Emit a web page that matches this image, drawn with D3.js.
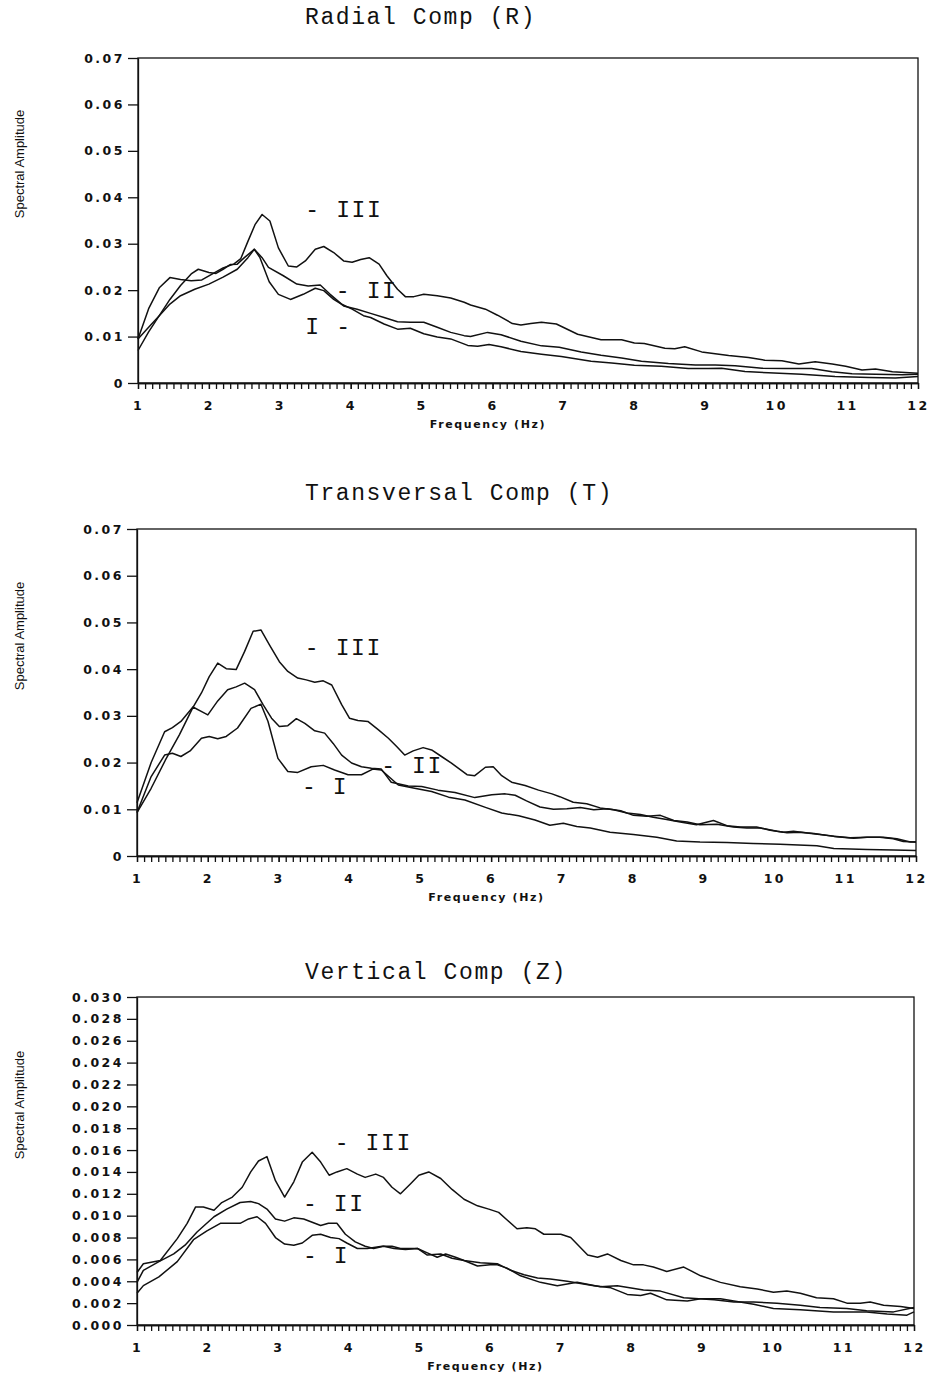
<!DOCTYPE html>
<html lang="en">
<head>
<meta charset="UTF-8">
<title>Spectral Amplitude</title>
<script src="https://d3js.org/d3.v7.min.js"></script>
<style>
  body { margin: 0; background: #fff; }
  .tick text { font-family: "DejaVu Sans", sans-serif; font-weight: bold; font-size: 12.5px; letter-spacing: 2.5px; fill: #111; }
  .tick line, .domain { stroke: #111; stroke-width: 1.3; }
  .title, .tag { font-family: "Courier New", "Liberation Mono", monospace; font-size: 23px; letter-spacing: 1.6px; fill: #111; }
  .xlab { font-family: "DejaVu Sans", sans-serif; font-weight: bold; font-size: 11px; letter-spacing: 1.6px; fill: #111; }
  .ylab { font-family: "Liberation Sans Narrow", "Liberation Sans", sans-serif; font-stretch: condensed; font-size: 13px; fill: #111; }
  .curve { fill: none; stroke: #111; stroke-width: 1.5; stroke-linejoin: round; }
</style>
</head>
<body>
<svg width="939" height="1381"></svg>
<script>
// ---- data: [frequency Hz, spectral amplitude] ----
var radialI = [[1.0,0.0095],[1.15,0.012],[1.3,0.0145],[1.45,0.017],[1.6,0.0188],[1.8,0.0202],[2.0,0.0213],[2.2,0.0228],[2.4,0.0245],[2.55,0.027],[2.64,0.0288],[2.72,0.027],[2.85,0.0218],[2.98,0.0191],[3.15,0.018],[3.33,0.0191],[3.5,0.0204],[3.62,0.0199],[3.76,0.018],[3.88,0.0169],[4.02,0.0159],[4.18,0.0145],[4.28,0.0141],[4.47,0.0127],[4.66,0.0116],[4.84,0.0118],[5.03,0.0106],[5.22,0.0099],[5.41,0.0095],[5.65,0.0081],[5.79,0.0079],[5.95,0.0083],[6.12,0.0078],[6.4,0.0068],[6.69,0.0062],[6.97,0.0057],[7.39,0.0047],[7.68,0.0043],[8.0,0.0038],[8.38,0.0036],[8.76,0.0031],[9.04,0.0031],[9.23,0.0032],[9.56,0.0025],[9.89,0.0022],[10.36,0.0019],[10.83,0.0014],[11.31,0.0012],[11.68,0.0011],[12.0,0.0014]];
var radialII = [[1.0,0.007],[1.15,0.011],[1.3,0.0145],[1.45,0.018],[1.6,0.021],[1.75,0.0235],[1.85,0.0245],[2.0,0.0238],[2.1,0.0236],[2.2,0.0245],[2.3,0.0255],[2.4,0.0256],[2.5,0.027],[2.64,0.0288],[2.75,0.027],[2.84,0.0249],[3.05,0.0231],[3.24,0.0213],[3.4,0.0209],[3.57,0.0211],[3.71,0.0191],[3.9,0.0166],[4.09,0.0159],[4.28,0.015],[4.47,0.0141],[4.66,0.0132],[4.84,0.0131],[5.03,0.0131],[5.22,0.012],[5.41,0.0109],[5.6,0.0102],[5.69,0.01],[5.93,0.0109],[6.12,0.0104],[6.4,0.009],[6.69,0.008],[6.94,0.0077],[7.25,0.0067],[7.53,0.006],[7.82,0.0054],[8.1,0.0047],[8.48,0.0042],[8.86,0.0039],[9.14,0.0039],[9.42,0.0037],[9.8,0.0032],[10.13,0.0031],[10.5,0.0031],[10.79,0.0024],[11.07,0.002],[11.4,0.0019],[11.78,0.0018],[12.0,0.0019]];
var radialIII = [[1.0,0.0095],[1.15,0.016],[1.3,0.0205],[1.45,0.0227],[1.6,0.0223],[1.75,0.022],[1.9,0.0222],[2.05,0.0235],[2.2,0.0248],[2.35,0.0256],[2.45,0.0268],[2.55,0.0305],[2.65,0.0341],[2.75,0.0363],[2.86,0.0349],[2.98,0.0291],[3.12,0.0252],[3.24,0.025],[3.36,0.0263],[3.5,0.0288],[3.62,0.0294],[3.76,0.0281],[3.9,0.0263],[4.02,0.026],[4.14,0.0266],[4.26,0.027],[4.4,0.0256],[4.51,0.0231],[4.66,0.0202],[4.77,0.0186],[4.89,0.0186],[5.03,0.0191],[5.22,0.0188],[5.41,0.0183],[5.6,0.0174],[5.69,0.0168],[5.9,0.0159],[6.07,0.0146],[6.28,0.0128],[6.4,0.0125],[6.54,0.0128],[6.69,0.0131],[6.9,0.0127],[7.2,0.0105],[7.53,0.0093],[7.82,0.0093],[8.0,0.0086],[8.14,0.0085],[8.43,0.0075],[8.57,0.0074],[8.71,0.0078],[8.95,0.0067],[9.33,0.0059],[9.61,0.0055],[9.84,0.0049],[10.08,0.0048],[10.32,0.0041],[10.55,0.0046],[10.79,0.0041],[10.98,0.0036],[11.21,0.0028],[11.4,0.003],[11.64,0.0024],[12.0,0.0021]];

var transI = [[1.0,0.0093],[1.2,0.017],[1.39,0.0216],[1.5,0.022],[1.62,0.0213],[1.75,0.0225],[1.91,0.0252],[2.02,0.0256],[2.14,0.0251],[2.26,0.0256],[2.42,0.0274],[2.61,0.0316],[2.75,0.0325],[2.85,0.0288],[2.99,0.0209],[3.13,0.0181],[3.27,0.0179],[3.46,0.0191],[3.63,0.0194],[3.79,0.0184],[3.98,0.0174],[4.17,0.0174],[4.33,0.0186],[4.45,0.0184],[4.69,0.0152],[4.92,0.0145],[5.16,0.0138],[5.4,0.0126],[5.63,0.012],[5.92,0.0104],[6.15,0.0092],[6.39,0.0086],[6.62,0.0077],[6.83,0.0066],[7.02,0.007],[7.21,0.0063],[7.4,0.006],[7.68,0.0051],[8.01,0.0046],[8.34,0.004],[8.62,0.0032],[8.95,0.003],[9.33,0.0029],[9.7,0.0027],[10.08,0.0025],[10.6,0.0022],[10.84,0.0016],[11.31,0.0014],[11.68,0.0013],[12.0,0.0012]];
var transII = [[1.0,0.0114],[1.2,0.02],[1.39,0.0266],[1.5,0.0275],[1.62,0.0288],[1.79,0.0319],[1.9,0.031],[2.0,0.0302],[2.14,0.0332],[2.28,0.0356],[2.4,0.0362],[2.52,0.037],[2.66,0.0356],[2.78,0.0324],[2.9,0.0295],[3.01,0.0277],[3.13,0.0279],[3.25,0.0294],[3.37,0.0284],[3.51,0.0268],[3.65,0.0263],[3.77,0.0241],[3.89,0.0216],[4.03,0.0199],[4.17,0.0191],[4.31,0.0188],[4.45,0.0186],[4.59,0.0158],[4.83,0.015],[5.02,0.0149],[5.25,0.0141],[5.49,0.0136],[5.77,0.0125],[6.01,0.0131],[6.2,0.0133],[6.34,0.013],[6.5,0.0118],[6.69,0.0105],[6.88,0.01],[7.07,0.0101],[7.26,0.0104],[7.45,0.0099],[7.64,0.0101],[7.83,0.0097],[8.01,0.0087],[8.2,0.0085],[8.39,0.0087],[8.58,0.0076],[8.77,0.0073],[8.95,0.0067],[9.19,0.0068],[9.42,0.0062],[9.61,0.006],[9.8,0.006],[10.04,0.0053],[10.18,0.005],[10.37,0.0051],[10.56,0.0048],[10.84,0.0042],[11.12,0.0038],[11.31,0.004],[11.54,0.004],[11.73,0.0037],[11.92,0.003],[12.0,0.003]];
var transIII = [[1.0,0.0093],[1.2,0.0145],[1.4,0.0205],[1.6,0.026],[1.79,0.0318],[1.91,0.0349],[2.02,0.0384],[2.14,0.0413],[2.26,0.0401],[2.4,0.0399],[2.52,0.0438],[2.64,0.0481],[2.75,0.0484],[2.87,0.0452],[3.01,0.0416],[3.13,0.0395],[3.27,0.0381],[3.39,0.0377],[3.51,0.0372],[3.63,0.0375],[3.75,0.0366],[3.89,0.0324],[4.0,0.0295],[4.12,0.029],[4.26,0.0288],[4.41,0.027],[4.55,0.0252],[4.67,0.0234],[4.78,0.0216],[4.9,0.0225],[5.04,0.0232],[5.16,0.0227],[5.3,0.0213],[5.44,0.0199],[5.66,0.0174],[5.77,0.0172],[5.92,0.019],[6.03,0.0191],[6.15,0.0172],[6.29,0.0158],[6.48,0.0151],[6.67,0.0141],[6.86,0.0133],[6.97,0.0127],[7.16,0.0115],[7.35,0.0112],[7.54,0.0103],[7.73,0.0099],[7.92,0.0092],[8.11,0.0089],[8.29,0.0083],[8.48,0.0078],[8.67,0.0073],[8.9,0.0067],[9.14,0.0076],[9.33,0.0065],[9.52,0.0062],[9.75,0.0062],[9.94,0.0055],[10.13,0.0051],[10.27,0.0053],[10.46,0.0049],[10.7,0.0045],[10.88,0.0042],[11.07,0.0039],[11.3,0.004],[11.49,0.004],[11.68,0.0037],[11.82,0.0031],[12.0,0.003]];

var vertI = [[1.0,0.0029],[1.09,0.0036],[1.31,0.0044],[1.57,0.0058],[1.8,0.0078],[1.99,0.0086],[2.18,0.0093],[2.32,0.0093],[2.46,0.0093],[2.58,0.0097],[2.7,0.0099],[2.82,0.0093],[2.96,0.008],[3.09,0.0074],[3.22,0.0073],[3.34,0.0075],[3.48,0.0082],[3.6,0.0083],[3.74,0.008],[3.86,0.0079],[3.97,0.0075],[4.12,0.007],[4.26,0.007],[4.47,0.0072],[4.61,0.0072],[4.73,0.007],[4.97,0.007],[5.11,0.0066],[5.25,0.0062],[5.37,0.0065],[5.51,0.0062],[5.63,0.0059],[5.82,0.0054],[6.0,0.0055],[6.1,0.0055],[6.24,0.0052],[6.43,0.0045],[6.71,0.0039],[6.95,0.0036],[7.23,0.0039],[7.56,0.0035],[7.8,0.0036],[8.17,0.0032],[8.41,0.0031],[8.74,0.0025],[9.17,0.0023],[9.45,0.0021],[9.73,0.0021],[10.06,0.002],[10.39,0.0018],[10.67,0.0016],[11.05,0.0015],[11.33,0.0013],[11.71,0.0012],[12.0,0.0016]];
var vertII = [[1.0,0.0039],[1.09,0.005],[1.31,0.0058],[1.52,0.0065],[1.68,0.0073],[1.85,0.0085],[2.09,0.0099],[2.27,0.0106],[2.46,0.0112],[2.61,0.0113],[2.72,0.0111],[2.84,0.0106],[2.96,0.0097],[3.09,0.0095],[3.22,0.0098],[3.36,0.0097],[3.48,0.0094],[3.6,0.0091],[3.71,0.0093],[3.83,0.0093],[3.95,0.0083],[4.09,0.0076],[4.23,0.0072],[4.35,0.007],[4.49,0.0072],[4.64,0.007],[4.8,0.0069],[4.97,0.007],[5.11,0.0064],[5.3,0.0065],[5.46,0.0061],[5.63,0.0059],[5.86,0.0057],[6.1,0.0056],[6.29,0.005],[6.48,0.0046],[6.67,0.0043],[6.85,0.0042],[7.09,0.004],[7.47,0.0036],[7.71,0.0034],[7.94,0.0028],[8.13,0.0027],[8.27,0.0029],[8.5,0.0023],[8.79,0.0022],[8.98,0.0024],[9.26,0.0024],[9.45,0.0022],[9.73,0.0019],[10.01,0.0015],[10.39,0.0014],[10.86,0.0012],[11.33,0.0012],[11.62,0.001],[11.9,0.0009],[12.0,0.0012]];
var vertIII = [[1.0,0.0048],[1.09,0.0056],[1.33,0.0059],[1.57,0.0079],[1.71,0.0093],[1.83,0.0108],[1.94,0.0108],[2.09,0.0105],[2.2,0.0112],[2.35,0.0117],[2.49,0.0126],[2.61,0.014],[2.72,0.015],[2.84,0.0154],[2.96,0.0132],[3.09,0.0117],[3.22,0.0131],[3.34,0.0149],[3.48,0.0158],[3.6,0.0149],[3.72,0.0137],[3.83,0.014],[3.97,0.0143],[4.12,0.0138],[4.23,0.0135],[4.38,0.0138],[4.49,0.0135],[4.61,0.0126],[4.73,0.012],[4.87,0.0129],[4.99,0.0137],[5.13,0.014],[5.3,0.0134],[5.46,0.0124],[5.63,0.0115],[5.82,0.0109],[5.98,0.0106],[6.12,0.0103],[6.24,0.0096],[6.38,0.0088],[6.52,0.0089],[6.64,0.0088],[6.76,0.0083],[7.0,0.0083],[7.14,0.008],[7.38,0.0064],[7.52,0.0062],[7.66,0.0065],[7.85,0.0059],[8.03,0.0055],[8.17,0.0055],[8.31,0.0053],[8.5,0.0049],[8.74,0.0053],[8.98,0.0045],[9.26,0.0039],[9.54,0.0035],[9.78,0.0033],[10.01,0.003],[10.2,0.0031],[10.39,0.0029],[10.62,0.0025],[10.86,0.0024],[11.05,0.002],[11.24,0.002],[11.38,0.0021],[11.57,0.0018],[11.81,0.0017],[12.0,0.0015]];

var xTicks = d3.range(1, 13);
var xMinor = d3.range(10, 121).map(d => d / 10);
var yTicksRT = [0, 0.01, 0.02, 0.03, 0.04, 0.05, 0.06, 0.07];
var yTicksZ = d3.range(0, 16).map(d => d * 0.002);

var titles = ["Radial Comp (R)", "Transversal Comp (T)", "Vertical Comp (Z)"];
// curve labels: text, frequency, amplitude where the label sits
var radialTags = [["- III", 3.36, 0.037], ["- II", 3.79, 0.0196], ["I -", 3.36, 0.0118]];
var transTags = [["- III", 3.37, 0.0443], ["- II", 4.45, 0.019], ["- I", 3.33, 0.0146]];
var vertTags = [["- III", 3.8, 0.0166], ["- II", 3.35, 0.011], ["- I", 3.35, 0.0062]];

var svg = d3.select("svg");
svg.append("rect").attr("width", 939).attr("height", 1381).attr("fill", "#fff");

var panels = [
  { title: titles[0], series: [radialI, radialII, radialIII], tags: radialTags, yMax: 0.07, yTicks: yTicksRT, fmt: d => d === 0 ? "0" : d3.format(".2f")(d),
    left: 138, right: 918, top: 58, bottom: 383, titleY: 24, ylabY: 164 },
  { title: titles[1], series: [transI, transII, transIII], tags: transTags, yMax: 0.07, yTicks: yTicksRT, fmt: d => d === 0 ? "0" : d3.format(".2f")(d),
    left: 137, right: 916, top: 529, bottom: 856, titleY: 500, ylabY: 636 },
  { title: titles[2], series: [vertI, vertII, vertIII], tags: vertTags, yMax: 0.03, yTicks: yTicksZ, fmt: d3.format(".3f"),
    left: 137, right: 914, top: 997, bottom: 1325, titleY: 979, ylabY: 1105 }
];

panels.forEach(p => {
  var x = d3.scaleLinear().domain([1, 12]).range([p.left, p.right]);
  var y = d3.scaleLinear().domain([0, p.yMax]).range([p.bottom, p.top]);
  var g = svg.append("g");

  g.append("rect")
    .attr("x", p.left).attr("y", p.top)
    .attr("width", p.right - p.left).attr("height", p.bottom - p.top)
    .attr("fill", "none").attr("stroke", "#111").attr("stroke-width", 1.3);

  g.append("g")
    .attr("transform", "translate(0," + p.bottom + ")")
    .call(d3.axisBottom(x).tickValues(xMinor).tickSize(6).tickSizeOuter(0).tickFormat(""));
  g.append("g")
    .attr("transform", "translate(0," + p.bottom + ")")
    .call(d3.axisBottom(x).tickValues(xTicks).tickSize(6).tickSizeOuter(0).tickPadding(12).tickFormat(d3.format("d")));
  g.append("g")
    .attr("transform", "translate(" + p.left + ",0)")
    .call(d3.axisLeft(y).tickValues(p.yTicks).tickSize(10).tickSizeOuter(0).tickPadding(3).tickFormat(p.fmt));

  var line = d3.line().x(d => x(d[0])).y(d => y(d[1]));
  g.selectAll("path.curve").data(p.series).enter()
    .append("path").attr("class", "curve").attr("d", line);

  g.selectAll("text.tag").data(p.tags).enter()
    .append("text").attr("class", "tag")
    .attr("x", d => x(d[1])).attr("y", d => y(d[2]))
    .attr("dominant-baseline", "central")
    .text(d => d[0]);

  g.append("text").attr("class", "title")
    .attr("x", 305).attr("y", p.titleY).text(p.title);

  g.append("text").attr("class", "xlab")
    .attr("x", (p.left + p.right) / 2 - 40).attr("y", p.bottom + 45)
    .attr("text-anchor", "middle").text("Frequency (Hz)");

  g.append("text").attr("class", "ylab")
    .attr("transform", "translate(24," + p.ylabY + ") rotate(-90)")
    .attr("text-anchor", "middle").text("Spectral Amplitude");
});
</script>
</body>
</html>
